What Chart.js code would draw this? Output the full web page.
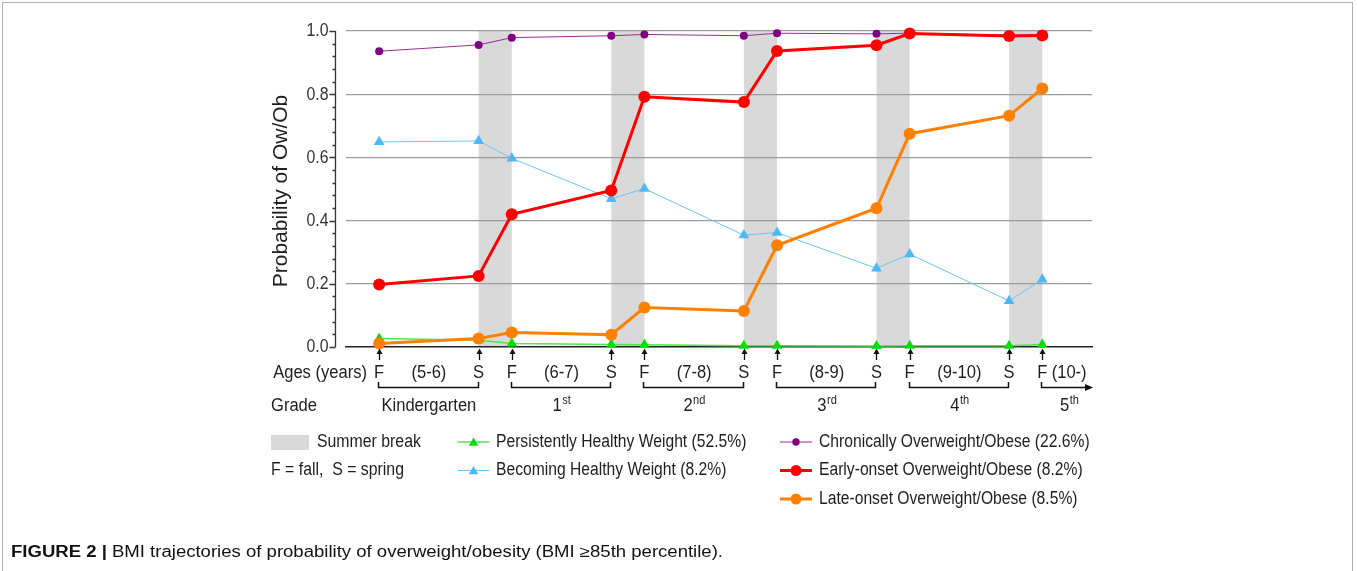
<!DOCTYPE html>
<html><head><meta charset="utf-8">
<script src="https://cdn.jsdelivr.net/npm/chart.js@4.4.1/dist/chart.umd.min.js"></script>
<style>html,body{margin:0;padding:0;background:#fff;overflow:hidden}#wrap{position:relative;width:1357px;height:571px}</style>
</head><body><div id="wrap"><canvas id="c" width="1357" height="571"></canvas></div>
<script>
// ---- data ----
const timePoints = [0, 9, 12, 21, 24, 33, 36, 45, 48, 57, 60]; // months since first fall
const seasonLabels = ['F', 'S', 'F', 'S', 'F', 'S', 'F', 'S', 'F', 'S', 'F'];
const ageRanges = ['(5-6)', '(6-7)', '(7-8)', '(8-9)', '(9-10)', '(10-)'];
const gradeLabels = [['Kindergarten', ''], ['1', 'st'], ['2', 'nd'], ['3', 'rd'], ['4', 'th'], ['5', 'th']];
const summerBreaks = [[9, 12], [21, 24], [33, 36], [45, 48], [57, 60]];
const yTickLabels = ['0.0', '0.2', '0.4', '0.6', '0.8', '1.0'];
const yTickValues = [0, 0.2, 0.4, 0.6, 0.8, 1.0];

const persistentlyHealthy = [0.027, 0.021, 0.011, 0.008, 0.007, 0.004, 0.004, 0.003, 0.004, 0.004, 0.008];
const becomingHealthy     = [0.649, 0.652, 0.597, 0.469, 0.501, 0.354, 0.362, 0.249, 0.294, 0.146, 0.214];
const chronicallyOwOb     = [0.936, 0.956, 0.979, 0.985, 0.989, 0.985, 0.993, 0.991, 0.993, 0.987, 0.988];
const earlyOnsetOwOb      = [0.198, 0.225, 0.420, 0.495, 0.792, 0.775, 0.937, 0.955, 0.992, 0.984, 0.986];
const lateOnsetOwOb       = [0.011, 0.027, 0.046, 0.039, 0.125, 0.114, 0.322, 0.439, 0.675, 0.732, 0.818];

const seriesNames = [
  'Persistently Healthy Weight (52.5%)',
  'Becoming Healthy Weight (8.2%)',
  'Chronically Overweight/Obese (22.6%)',
  'Early-onset Overweight/Obese (8.2%)',
  'Late-onset Overweight/Obese (8.5%)'
];

// ---- styles ----
const FONT = '"Liberation Sans", Arial, sans-serif';
const SX = 0.92;
const TXT = '#1e1e1e';
const styles = [
  {color: '#00e000', line: '#4be84b', width: 1.5, shape: 'triangle', r: 6, order: 5},
  {color: '#4db8f5', line: '#6cc4f5', width: 1, shape: 'triangle', r: 6.2, order: 3},
  {color: '#800080', line: '#9a2a9a', width: 1, shape: 'circle', r: 4, order: 4},
  {color: '#ff0000', line: '#ff0000', width: 3, shape: 'circle', r: 6, order: 1},
  {color: '#ff8000', line: '#ff8000', width: 3, shape: 'circle', r: 6, order: 2}
];
const seriesData = [persistentlyHealthy, becomingHealthy, chronicallyOwOb, earlyOnsetOwOb, lateOnsetOwOb];

const toXY = arr => arr.map((v, i) => ({x: timePoints[i], y: v}));

function txt(ctx, s, x, y, o = {}) {
  const size = o.size || 18, weight = o.weight || 'normal', align = o.align || 'left';
  const sx = o.sx || SX;
  ctx.save();
  ctx.font = `${weight} ${size}px ${FONT}`;
  ctx.fillStyle = o.color || TXT;
  ctx.textBaseline = o.baseline || 'middle';
  ctx.textAlign = 'left';
  const w = ctx.measureText(s).width * sx;
  const x0 = align === 'left' ? x : align === 'center' ? x - w / 2 : x - w;
  ctx.translate(x0, y);
  ctx.scale(sx, 1);
  ctx.fillText(s, 0, 0);
  ctx.restore();
  return w;
}
function measure(ctx, s, size, weight, sx) {
  ctx.save(); ctx.font = `${weight || 'normal'} ${size}px ${FONT}`;
  const w = ctx.measureText(s).width * (sx || SX); ctx.restore(); return w;
}
function marker(ctx, shape, x, y, r, color) {
  ctx.save(); ctx.fillStyle = color; ctx.beginPath();
  if (shape === 'circle') { ctx.arc(x, y, r, 0, Math.PI * 2); }
  else {
    ctx.moveTo(x, y - r);
    ctx.lineTo(x + 0.866 * r, y + r / 2);
    ctx.lineTo(x - 0.866 * r, y + r / 2);
    ctx.closePath();
  }
  ctx.fill(); ctx.restore();
}
function supLabel(ctx, base, sup, cx, y) {
  const w1 = measure(ctx, base, 18), w2 = sup ? measure(ctx, sup, 12) : 0;
  const x0 = cx - (w1 + w2) / 2;
  txt(ctx, base, x0, y, {size: 18});
  if (sup) txt(ctx, sup, x0 + w1 + 0.5, y - 5, {size: 12});
}

const bandsPlugin = {
  id: 'bands',
  beforeDraw(chart) {
    const {ctx, scales: {x, y}} = chart;
    ctx.save();
    ctx.fillStyle = '#d9d9d9';
    summerBreaks.forEach(([a, b]) => {
      const x1 = x.getPixelForValue(a), x2 = x.getPixelForValue(b);
      const y1 = y.getPixelForValue(1), y2 = y.getPixelForValue(0);
      ctx.fillRect(x1, y1, x2 - x1, y2 - y1);
    });
    ctx.restore();
  }
};

const decorPlugin = {
  id: 'decor',
  afterDraw(chart) {
    const {ctx, chartArea, scales: {x, y}} = chart;
    const axX = chartArea.left - 10.5;
    ctx.save();
    // y axis line and ticks
    ctx.strokeStyle = '#333'; ctx.lineWidth = 1.3;
    ctx.beginPath();
    ctx.moveTo(axX, y.getPixelForValue(1)); ctx.lineTo(axX, y.getPixelForValue(0));
    for (let k = 0; k <= 25; k++) {
      const py = Math.round(y.getPixelForValue(k * 0.04)) + 0.5;
      const len = (k % 5 === 0) ? 6 : 3;
      ctx.moveTo(axX - len, py); ctx.lineTo(axX, py);
    }
    ctx.stroke();
    yTickLabels.forEach((lab, i) => {
      txt(ctx, lab, axX - 7, y.getPixelForValue(yTickValues[i]) + 0.5, {size: 18, align: 'right', sx: 0.88, color: '#333'});
    });
    // y title
    ctx.save();
    ctx.translate(282, (y.getPixelForValue(1) + y.getPixelForValue(0)) / 2 + 2);
    ctx.scale(0.92, 1);
    ctx.rotate(-Math.PI / 2);
    ctx.font = `21px ${FONT}`; ctx.fillStyle = TXT; ctx.textAlign = 'center'; ctx.textBaseline = 'middle';
    ctx.fillText('Probability of Ow/Ob', 0, 0);
    ctx.restore();

    // arrows under each time point
    ctx.strokeStyle = '#111'; ctx.fillStyle = '#111'; ctx.lineWidth = 1.3;
    timePoints.forEach(t => {
      const px = Math.round(x.getPixelForValue(t)) + 0.5;
      ctx.beginPath(); ctx.moveTo(px, 360); ctx.lineTo(px, 352); ctx.stroke();
      ctx.beginPath(); ctx.moveTo(px, 348.5); ctx.lineTo(px + 3, 354); ctx.lineTo(px - 3, 354); ctx.closePath(); ctx.fill();
    });

    // ages row
    const rowA = 373.5, rowG = 406;
    txt(ctx, 'Ages (years)', 367, rowA, {align: 'right'});
    timePoints.forEach((t, i) => txt(ctx, seasonLabels[i], x.getPixelForValue(t), rowA, {align: 'center'}));
    const mids = [];
    for (let k = 0; k < 5; k++) {
      mids.push((x.getPixelForValue(timePoints[2 * k]) + x.getPixelForValue(timePoints[2 * k + 1])) / 2);
    }
    const lastF = x.getPixelForValue(timePoints[timePoints.length - 1]);
    mids.push((lastF + chartArea.right) / 2 + 2);
    ageRanges.forEach((s, k) => txt(ctx, s, mids[k], rowA, {align: 'center'}));

    // brackets
    ctx.lineWidth = 1.5; ctx.strokeStyle = '#111';
    const by = 387.5;
    for (let k = 0; k < 5; k++) {
      const a = Math.round(x.getPixelForValue(timePoints[2 * k])) - 0.5;
      const b = Math.round(x.getPixelForValue(timePoints[2 * k + 1])) - 0.5;
      ctx.beginPath(); ctx.moveTo(a, 382); ctx.lineTo(a, by); ctx.lineTo(b, by); ctx.lineTo(b, 382); ctx.stroke();
    }
    const la = Math.round(lastF) - 0.5, lb = chartArea.right - 4;
    ctx.beginPath(); ctx.moveTo(la, 382); ctx.lineTo(la, by); ctx.lineTo(lb, by); ctx.stroke();
    ctx.beginPath(); ctx.moveTo(chartArea.right + 1, by); ctx.lineTo(lb - 3, by - 3.5); ctx.lineTo(lb - 3, by + 3.5); ctx.closePath(); ctx.fill();

    // grade row
    txt(ctx, 'Grade', 271, rowG);
    gradeLabels.forEach(([b, s], k) => supLabel(ctx, b, s, mids[k], rowG));

    // legend
    const rows = [442, 470.5, 499];
    ctx.fillStyle = '#d9d9d9'; ctx.fillRect(271, 435, 38, 15);
    txt(ctx, 'Summer break', 317, rows[0], {sx: 0.88});
    txt(ctx, 'F = fall,  S = spring', 271, rows[1], {sx: 0.88});
    const cols = [[458, 489, 496], [780, 812, 819]];
    const place = [[0, 0], [0, 1], [1, 0], [1, 1], [1, 2]];
    seriesNames.forEach((name, i) => {
      const [c, r] = place[i];
      const [l1, l2, tx] = cols[c];
      const yy = rows[r];
      const st = styles[i];
      ctx.strokeStyle = st.line; ctx.lineWidth = st.width;
      ctx.beginPath(); ctx.moveTo(l1, yy); ctx.lineTo(l2, yy); ctx.stroke();
      marker(ctx, st.shape, (l1 + l2) / 2, st.shape === 'triangle' ? yy + 1 : yy, st.shape === 'triangle' ? 5.5 : (st.r > 5 ? 5.5 : 3.7), st.color);
      txt(ctx, name, tx, yy, {sx: 0.87});
    });

    // caption
    const capY = 553;
    const boldPart = 'FIGURE 2 |';
    const rest = ' BMI trajectories of probability of overweight/obesity (BMI \u226585th percentile).';
    const rawW = measure(ctx, boldPart, 16, 'bold', 1) + measure(ctx, rest, 16, 'normal', 1);
    const csx = 712 / rawW;
    const wb = txt(ctx, boldPart, 11, capY, {size: 16, weight: 'bold', sx: csx, color: '#111'});
    txt(ctx, rest, 11 + wb, capY, {size: 16, sx: csx, color: '#111'});

    // frame
    ctx.strokeStyle = '#b0b0b0'; ctx.lineWidth = 1;
    ctx.strokeRect(2.5, 2.5, 1350, 600);
    ctx.restore();
  }
};

new Chart(document.getElementById('c'), {
  type: 'line',
  data: {
    datasets: seriesNames.map((name, i) => ({
      label: name,
      data: toXY(seriesData[i]),
      borderColor: styles[i].line,
      backgroundColor: styles[i].color,
      borderWidth: styles[i].width,
      pointStyle: styles[i].shape,
      pointRadius: styles[i].r,
      pointBackgroundColor: styles[i].color,
      pointBorderColor: styles[i].color,
      pointBorderWidth: 0,
      tension: 0,
      fill: false,
      clip: false,
      order: styles[i].order
    }))
  },
  options: {
    responsive: false,
    animation: false,
    events: [],
    layout: {padding: {left: 346, right: 265, top: 31, bottom: 224}},
    plugins: {legend: {display: false}, tooltip: {enabled: false}},
    scales: {
      x: {
        type: 'linear', min: -3, max: 64.5,
        grid: {display: false, drawTicks: false},
        ticks: {display: false},
        border: {display: true, color: '#222', width: 1.5}
      },
      y: {
        min: 0, max: 1,
        ticks: {display: false, stepSize: 0.2},
        grid: {drawTicks: false, color: c => c.tick.value === 0 ? 'rgba(0,0,0,0)' : '#9c9c9c', lineWidth: 1.2},
        border: {display: false}
      }
    }
  },
  plugins: [bandsPlugin, decorPlugin]
});
</script>
</body></html>
